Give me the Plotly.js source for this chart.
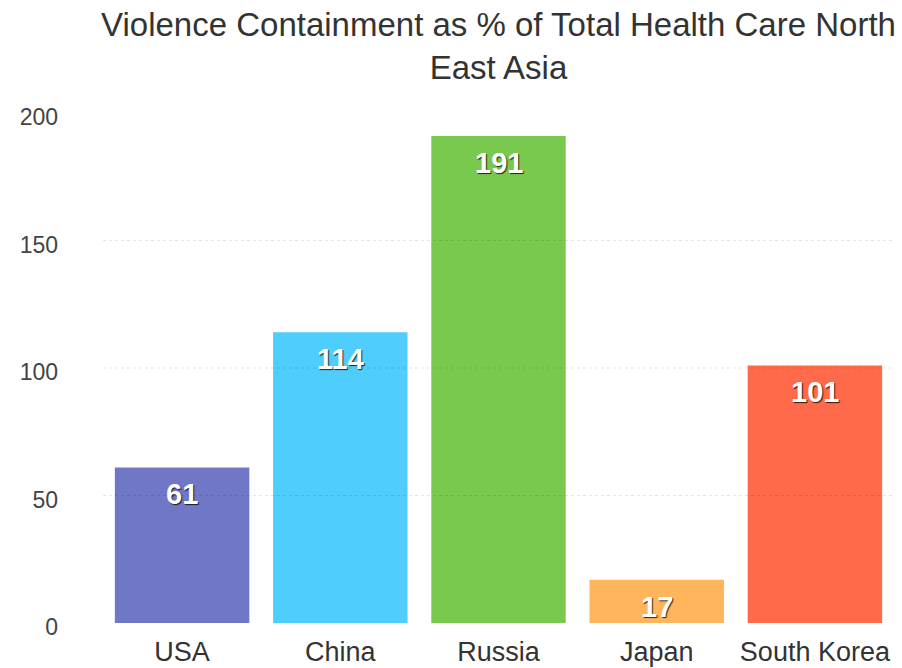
<!DOCTYPE html>
<html><head><meta charset="utf-8">
<script src="https://cdn.plot.ly/plotly-3.0.1.min.js"></script>
<style>html,body{margin:0;padding:0;background:#fff;}#chart{width:902px;height:668px;}</style>
</head><body><div id="chart"></div>
<script>
var categories = ["USA", "China", "Russia", "Japan", "South Korea"];
var values = [61, 114, 191, 17, 101];
var barColors = ["#7077C7", "#4FCDFD", "#7AC94F", "#FEB55C", "#FE6A4A"];
var yTicks = [0, 50, 100, 150, 200];

var FONT = "Liberation Sans, Arial, Helvetica, sans-serif";

var trace = {
  type: "bar",
  x: categories,
  y: values,
  marker: {color: barColors, line: {width: 0}},
  hoverinfo: "none"
};

var annotations = categories.map(function(c, i){
  return {
    x: c, y: values[i], xref: "x", yref: "y",
    text: "<b>" + String(values[i]) + "</b>", showarrow: false,
    yanchor: "middle", yshift: -27,
    font: {family: FONT, size: 29, color: "#ffffff",
           shadow: "1px 1px 1px rgba(0,0,0,0.8)"}
  };
});

var gridShapes = yTicks.filter(function(v){ return v > 0 && v < 200; }).map(function(v){
  return {
    type: "line", xref: "paper", yref: "y", x0: 0, x1: 1, y0: v, y1: v,
    layer: "above",
    line: {color: "rgba(0,0,0,0.10)", width: 1, dash: "dot"}
  };
});

var layout = {
  width: 902, height: 668,
  margin: {l: 103, r: 8, t: 113, b: 45},
  paper_bgcolor: "#ffffff", plot_bgcolor: "#ffffff",
  title: {
    text: "Violence Containment as % of Total Health Care North<br>East Asia",
    font: {family: FONT, size: 33, color: "#333333"},
    x: 0.5, xref: "paper", xanchor: "center",
    yref: "container", y: 0.946, yanchor: "top"
  },
  bargap: 0.15,
  showlegend: false,
  xaxis: {
    showgrid: false, zeroline: false, showline: false, ticks: "",
    tickfont: {family: FONT, size: 27, color: "#333333"},
    ticklabelstandoff: 10
  },
  yaxis: {
    range: [0, 200], tickvals: yTicks, ticktext: yTicks.map(String),
    showgrid: false, zeroline: false, showline: false, ticks: "",
    tickfont: {family: FONT, size: 23, color: "#444444"},
    ticklabelstandoff: 44, ticklabelshift: 4
  },
  shapes: gridShapes,
  annotations: annotations
};

Plotly.newPlot("chart", [trace], layout, {displayModeBar: false, staticPlot: true});
</script></body></html>
